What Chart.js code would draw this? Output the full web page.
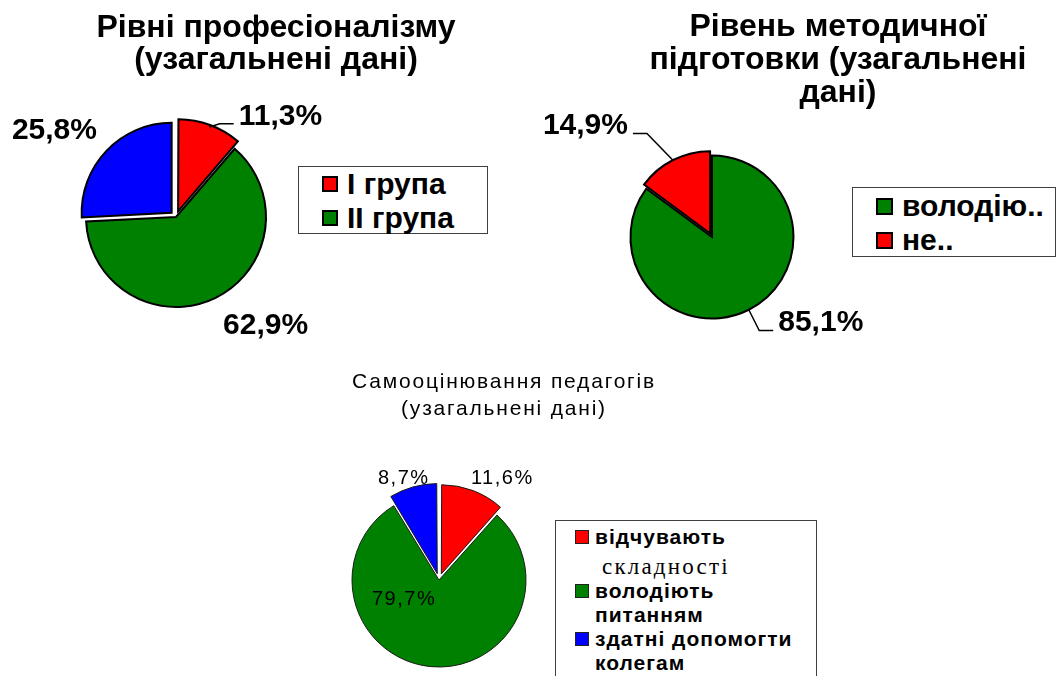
<!DOCTYPE html>
<html lang="uk">
<head>
<meta charset="utf-8">
<script src="https://cdn.jsdelivr.net/npm/chart.js@4.4.1/dist/chart.umd.min.js"></script>
<style>
  html, body { margin: 0; padding: 0; background: #fff; }
  body { position: relative; width: 1057px; height: 676px; overflow: hidden;
         font-family: "Liberation Sans", Arial, sans-serif; color: #000; }
  canvas { position: absolute; }
  .title { position: absolute; text-align: center; white-space: nowrap; }
  .big { font-weight: bold; font-size: 32px; line-height: 32px; }
  .small { font-size: 21px; line-height: 27px; letter-spacing: 1.8px; }
  .legend { position: absolute; box-sizing: border-box; border: 1px solid #404040; background: #fff; }
  .row { display: flex; align-items: center; white-space: nowrap; }
  .mark { box-sizing: border-box; flex: none; }
</style>
</head>
<body>
<canvas id="prof" width="352" height="400" style="left:0;top:17px"></canvas>
<canvas id="meth" width="360" height="300" style="left:532px;top:87px"></canvas>
<canvas id="self" width="300" height="300" style="left:289px;top:430px"></canvas>

<div class="title big" style="left:26px;top:10px;width:500px">Рівні професіоналізму<br>(узагальнені дані)</div>
<div class="title big" style="left:588px;top:9px;width:500px;line-height:33px">Рівень методичної<br>підготовки (узагальнені<br>дані)</div>
<div class="title small" style="left:304px;top:367px;width:400px">Самооцінювання педагогів<br>(узагальнені дані)</div>

<div id="leg1" class="legend" style="left:298px;top:166px;width:190px;height:68px"></div>
<div id="leg2" class="legend" style="left:852px;top:187px;width:204px;height:70px"></div>
<div id="leg3" class="legend" style="left:555px;top:520px;width:262px;height:180px"></div>

<script>
// Рівні професіоналізму
const profLabels = ['I група', 'II група'];
const profValues = [11.3, 62.9, 25.8];
const profColors = ['#ff0000', '#008000', '#0000ff'];

// Рівень методичної підготовки
const methLabels = ['володію..', 'не..'];
const methValues = [85.1, 14.9];
const methColors = ['#008000', '#ff0000'];

// Самооцінювання педагогів
const selfLabels = [['відчувають', 'складності'], ['володіють', 'питанням'], ['здатні допомогти', 'колегам']];
const selfValues = [11.6, 79.7, 8.7];
const selfColors = ['#ff0000', '#008000', '#0000ff'];

// percent labels next to each slice, optional leader line
const sliceLabels = {
  id: 'sliceLabels',
  afterDatasetsDraw(chart, args, opts) {
    const ctx = chart.ctx;
    const ds = chart.data.datasets[0];
    const arcs = chart.getDatasetMeta(0).data;
    ctx.save();
    ctx.font = opts.font;
    ctx.fillStyle = '#000';
    ctx.strokeStyle = '#000';
    ctx.lineWidth = 1.5;
    if ('letterSpacing' in ctx) ctx.letterSpacing = opts.spacing || '0px';
    ctx.textAlign = 'center';
    ctx.textBaseline = 'alphabetic';
    arcs.forEach((arc, i) => {
      const p = arc.getProps(['x', 'y', 'startAngle', 'endAngle', 'outerRadius']);
      const mid = (p.startAngle + p.endAngle) / 2;
      const r = p.outerRadius + (ds.offset[i] || 0) / 4;
      const ax = p.x + Math.cos(mid) * r, ay = p.y + Math.sin(mid) * r;
      const lx = ax + opts.shift[i][0], ly = ay + opts.shift[i][1];
      const text = ds.data[i].toFixed(1).replace('.', ',') + '%';
      const w = ctx.measureText(text).width;
      ctx.fillText(text, lx, ly + opts.cap / 2);
      if (opts.leader && opts.leader[i]) {
        const side = ax < lx ? -1 : 1;
        const ex = lx + side * (w / 2 + 5), ey = ly + opts.cap / 2 - 1;
        ctx.beginPath();
        ctx.moveTo(ax, ay);
        ctx.lineTo(ex + side * 14, ey);
        ctx.lineTo(ex, ey);
        ctx.stroke();
      }
    });
    ctx.restore();
  }
};

function makePie(id, labels, values, colors, ds, labelOpts) {
  return new Chart(document.getElementById(id), {
    type: 'pie',
    data: {
      labels: labels,
      datasets: [Object.assign({
        data: values,
        backgroundColor: colors,
        borderColor: '#000',
        borderJoinStyle: 'miter'
      }, ds)]
    },
    options: {
      responsive: false,
      animation: false,
      events: [],
      layout: { padding: 0 },
      plugins: {
        legend: { display: false },
        tooltip: { enabled: false },
        sliceLabels: labelOpts
      }
    },
    plugins: [sliceLabels]
  });
}

makePie('prof', profLabels, profValues, profColors,
  { radius: 90, borderWidth: 2, offset: [24, 0, 24] },
  { font: 'bold 30px "Liberation Sans", Arial', cap: 21.5,
    shift: [[71, -13], [50, 25], [-52, -23]], leader: [true, false, false] });

makePie('meth', methLabels, methValues, methColors,
  { radius: 81.5, borderWidth: 2, offset: [0, 16] },
  { font: 'bold 30px "Liberation Sans", Arial', cap: 21.5,
    shift: [[72, 11], [-88, -37]], leader: [true, true] });

makePie('self', selfLabels, selfValues, selfColors,
  { radius: 87, borderWidth: 1, borderColor: '#1a1a1a', offset: [26, 0, 26] },
  { font: '20px "Liberation Sans", Arial', cap: 14.3, spacing: '1.5px',
    shift: [[30, -16], [-27, -69], [-10, -13]] });

// legends as html boxes
function buildLegend(id, labels, colors, cfg) {
  const box = document.getElementById(id);
  box.style.paddingTop = cfg.padTop + 'px';
  labels.forEach((lab, i) => {
    const lines = Array.isArray(lab) ? lab : [lab];
    lines.forEach((txt, j) => {
      const row = document.createElement('div');
      row.className = 'row';
      row.style.height = cfg.lineH + 'px';
      row.style.font = cfg.font;
      row.style.letterSpacing = cfg.spacing || '0px';
      if (j === 0) {
        const m = document.createElement('span');
        m.className = 'mark';
        m.style.width = cfg.mark + 'px';
        m.style.height = cfg.mark + 'px';
        m.style.background = colors[i];
        m.style.border = cfg.markBorder;
        m.style.marginLeft = cfg.markLeft + 'px';
        m.style.marginRight = cfg.gap + 'px';
        row.appendChild(m);
      } else {
        row.style.paddingLeft = (cfg.markLeft + cfg.mark + cfg.gap) + 'px';
        if (cfg.altFont && cfg.altFont[i]) {
          row.style.font = cfg.altFont[i];
          row.style.letterSpacing = '2.2px';
          row.style.paddingLeft = (cfg.markLeft + cfg.mark + cfg.gap + 7) + 'px';
          row.style.marginTop = '6px';
        }
      }
      const t = document.createElement('span');
      t.textContent = txt;
      row.appendChild(t);
      box.appendChild(row);
    });
  });
}

buildLegend('leg1', profLabels, profColors,
  { font: 'bold 30px "Liberation Sans", Arial', lineH: 34, padTop: 0, mark: 16,
    markBorder: '2px solid #000', markLeft: 23, gap: 9 });
buildLegend('leg2', methLabels, methColors,
  { font: 'bold 30px "Liberation Sans", Arial', lineH: 34, padTop: 1, mark: 17,
    markBorder: '2px solid #000', markLeft: 23, gap: 9 });
buildLegend('leg3', selfLabels, selfColors,
  { font: 'bold 21px "Liberation Sans", Arial', lineH: 24, padTop: 4, mark: 14,
    markBorder: '1px solid #222', markLeft: 19, gap: 6, spacing: '1px',
    altFont: ['23px "Liberation Serif", "Times New Roman", serif', null, null] });
</script>
</body>
</html>
